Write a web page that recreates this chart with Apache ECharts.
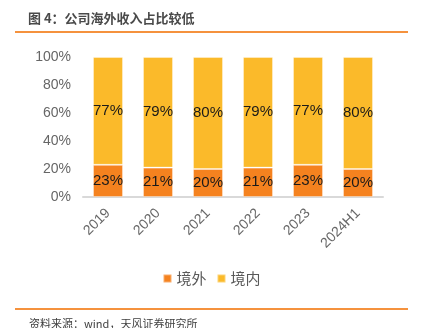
<!DOCTYPE html>
<html>
<head>
<meta charset="utf-8">
<script src="https://cdn.jsdelivr.net/npm/echarts@6/dist/echarts.min.js"></script>
<style>
html,body{margin:0;padding:0;background:#fff;}
#chart{width:423px;height:328px;}
</style>
</head>
<body>
<div id="chart"></div>
<script>
// Revenue split by region, share of total (%)
const categories = ['2019', '2020', '2021', '2022', '2023', '2024H1'];
const overseas = [23, 21, 20, 21, 23, 20];   // 境外
const domestic = [77, 79, 80, 79, 77, 80];   // 境内
const yTicks = [0, 20, 40, 60, 80, 100];

const FONT = '"Liberation Sans", "Noto Sans CJK SC", sans-serif';
const CJK = '"Noto Sans CJK SC", "Liberation Sans", sans-serif';

const chart = echarts.init(document.getElementById('chart'), null, { renderer: 'canvas' });

const barLabel = {
  show: true,
  position: 'inside',
  formatter: p => p.value + '%',
  color: '#1a1a1a',
  fontSize: 15,
  fontFamily: FONT
};

chart.setOption({
  animation: false,
  backgroundColor: '#fff',
  title: [
    {
      text: '图 4：公司海外收入占比较低',
      left: 23, top: 7,
      textStyle: { fontSize: 13, fontWeight: 'bold', color: '#4a4a4a', fontFamily: CJK }
    },
    {
      text: '资料来源：wind，天风证券研究所',
      left: 24, top: 313,
      textStyle: { fontSize: 11, fontWeight: 'normal', color: '#404040', fontFamily: CJK }
    }
  ],
  graphic: [
    { type: 'rect', shape: { x: 15, y: 31, width: 393, height: 2 }, style: { fill: '#F5923E' } },
    { type: 'rect', shape: { x: 15, y: 308, width: 393, height: 2 }, style: { fill: '#F5923E' } }
  ],
  legend: {
    data: ['境外', '境内'],
    left: 'center', top: 266,
    itemWidth: 8, itemHeight: 8, itemGap: 10,
    icon: 'rect',
    textStyle: { fontSize: 15, color: '#595959', fontFamily: CJK }
  },
  grid: { left: 83, right: 40, top: 57, height: 140, containLabel: false },
  xAxis: {
    type: 'category',
    data: categories,
    axisLine: { lineStyle: { color: '#d9d9d9', width: 2 } },
    axisTick: { show: false },
    axisLabel: { rotate: 45, color: '#666666', fontSize: 14, fontFamily: FONT, margin: 14 }
  },
  yAxis: {
    type: 'value',
    min: yTicks[0], max: yTicks[yTicks.length - 1], interval: 20,
    axisLine: { show: false },
    axisTick: { show: false },
    splitLine: { show: false },
    axisLabel: { formatter: '{value}%', color: '#666666', fontSize: 14, fontFamily: FONT, margin: 12 }
  },
  series: [
    {
      name: '境外', type: 'bar', stack: 'total', data: overseas, barWidth: 30,
      itemStyle: { color: '#F5821F', borderColor: 'rgba(255,255,255,0.35)', borderWidth: 1 },
      label: barLabel
    },
    {
      name: '境内', type: 'bar', stack: 'total', data: domestic, barWidth: 30,
      itemStyle: { color: '#FBBA2A', borderColor: 'rgba(255,255,255,0.35)', borderWidth: 1 },
      label: barLabel
    }
  ]
});
</script>
</body>
</html>
